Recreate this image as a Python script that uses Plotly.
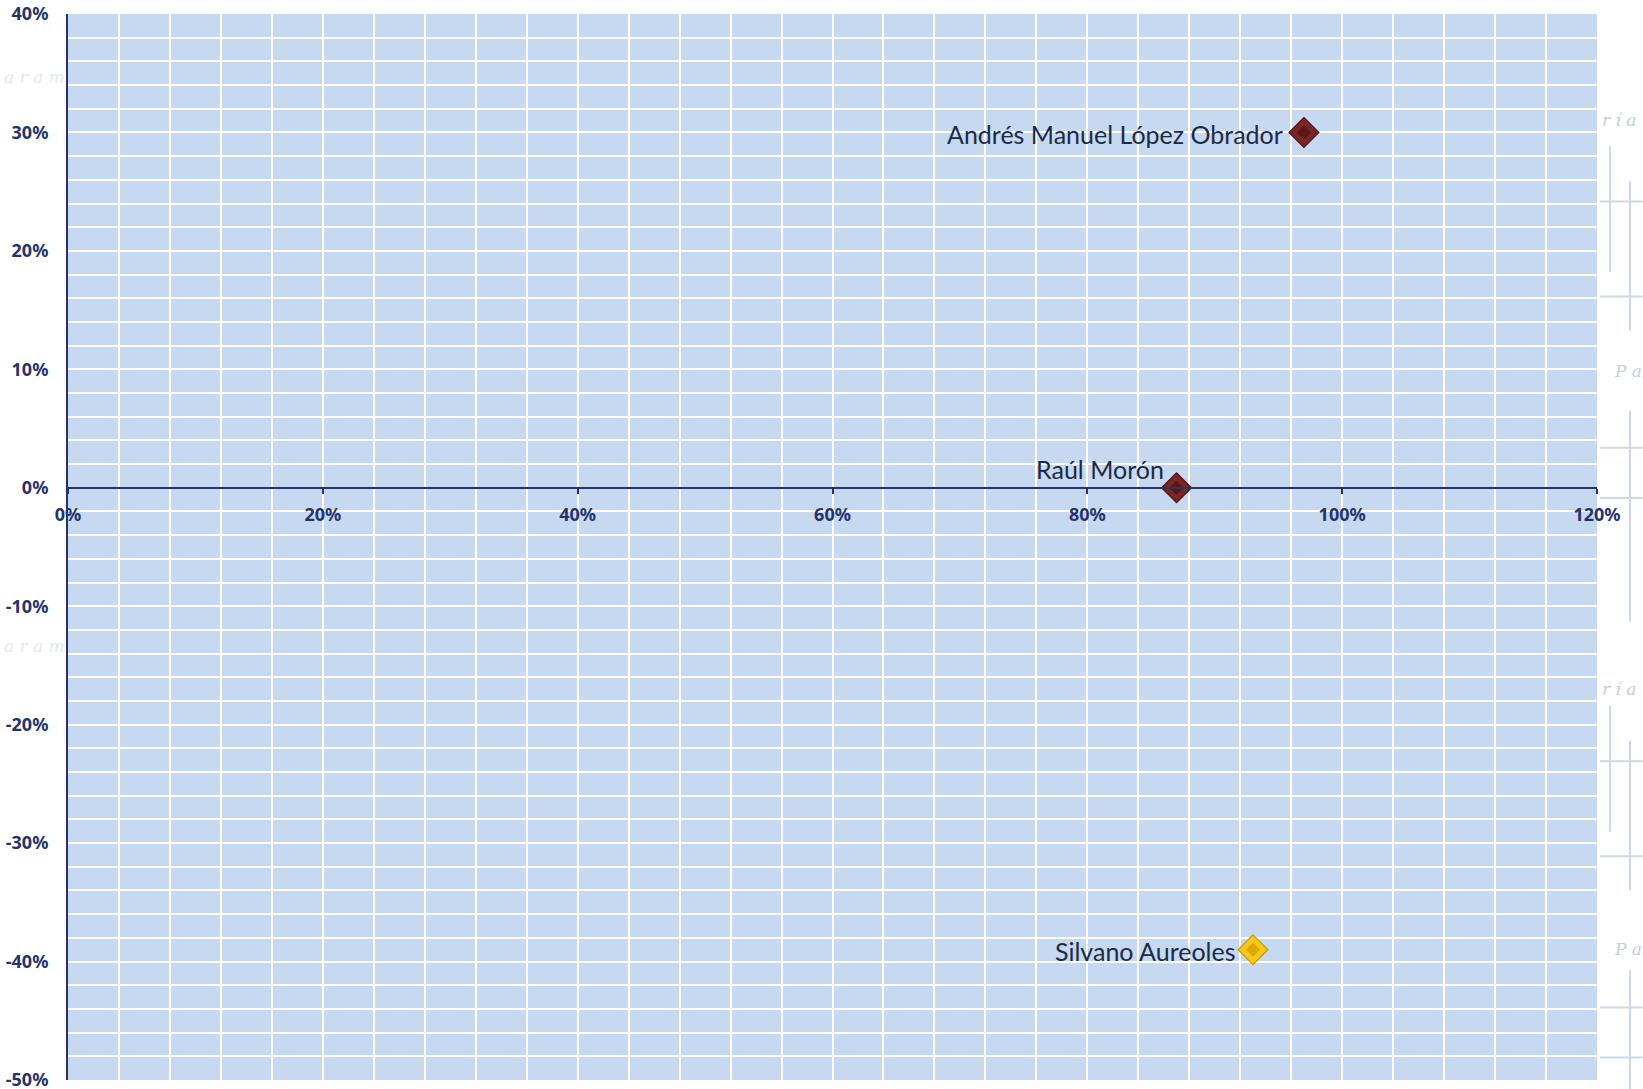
import plotly.graph_objects as go

# Candidates: x = first metric, y = second metric (as fractions)
candidatos = ["Andrés Manuel López Obrador", "Raúl Morón", "Silvano Aureoles"]
valor_x = [0.97, 0.87, 0.93]
valor_y = [0.30, 0.00, -0.39]
color_borde = ["#4a1212", "#4a1212", "#c99a00"]
color_relleno = ["#7a2626", "#7a2626", "#f7c81a"]
color_centro = ["#5c1717", "#5c1717", "#dcaa05"]

# axis ticks
x_ticks = [0.0, 0.2, 0.4, 0.6, 0.8, 1.0, 1.2]
x_tick_labels = ["0%", "20%", "40%", "60%", "80%", "100%", "120%"]
y_ticks = [-0.5, -0.4, -0.3, -0.2, -0.1, 0.0, 0.1, 0.2, 0.3, 0.4]
y_tick_labels = ["-50%", "-40%", "-30%", "-20%", "-10%", "0%", "10%", "20%", "30%", "40%"]

# label offsets (pixels) relative to each marker
label_dx = [-19, -11, -15]
label_dy = [-2, 19, -1]

navy = "#26336b"
fig = go.Figure()

# faint decorative backdrop in the page margins
deco_text = [
    (-0.043, 0.952, "a r a m", "left", "#e2eaee"),
    (-0.043, 0.407, "a r a m", "left", "#e2eaee"),
    (1.002, 0.912, "r í a", "left", "#c3cfe0"),
    (1.002, 0.367, "r í a", "left", "#c3cfe0"),
    (1.010, 0.665, "P a", "left", "#c3cfe0"),
    (1.010, 0.112, "P a", "left", "#c3cfe0"),
]
for xp, yp, t, anc, col in deco_text:
    fig.add_annotation(x=xp, y=yp, xref="paper", yref="paper", text="<i>" + t + "</i>",
                       showarrow=False, xanchor=anc,
                       font=dict(family="DejaVu Serif", size=17, color=col))

deco_col = "#cdd7e6"
for off in [0.0, -0.525]:
    for xp, y0, y1 in [(1.0085, 0.876, 0.758), (1.0216, 0.843, 0.703)]:
        fig.add_shape(type="line", xref="paper", yref="paper", x0=xp, x1=xp,
                      y0=y0 + off, y1=y1 + off, line=dict(color=deco_col, width=2))
    for yp in [0.824, 0.735]:
        fig.add_shape(type="line", xref="paper", yref="paper", x0=1.002, x1=1.03,
                      y0=yp + off, y1=yp + off, line=dict(color=deco_col, width=2))
    fig.add_shape(type="line", xref="paper", yref="paper", x0=1.0216, x1=1.0216,
                  y0=0.628 + off, y1=0.43 + off, line=dict(color=deco_col, width=2))
    for yp in [0.593, 0.546]:
        fig.add_shape(type="line", xref="paper", yref="paper", x0=1.002, x1=1.03,
                      y0=yp + off, y1=yp + off, line=dict(color=deco_col, width=2))

# markers with a bevelled look: outer diamond + inner diamond
fig.add_trace(go.Scatter(
    x=valor_x, y=valor_y, mode="markers",
    marker=dict(symbol="diamond", size=23, color=color_relleno,
                line=dict(color=color_borde, width=1.2)),
    hoverinfo="skip", showlegend=False, cliponaxis=False,
))
fig.add_trace(go.Scatter(
    x=valor_x, y=valor_y, mode="markers",
    marker=dict(symbol="diamond", size=11, color=color_centro,
                line=dict(width=0)),
    hoverinfo="skip", showlegend=False, cliponaxis=False,
))

# candidate names next to their markers
for nombre, xv, yv, dx, dy in zip(candidatos, valor_x, valor_y, label_dx, label_dy):
    fig.add_annotation(x=xv, y=yv, text=nombre, showarrow=False,
                       xanchor="right", yanchor="middle", xshift=dx, yshift=dy,
                       font=dict(family="Lato", size=25, color="#1c2a45"))

y_min, y_max = -0.5, 0.4
tick_font = dict(family="Noto Sans", size=18, color=navy, weight="bold")
fig.update_layout(
    width=1643, height=1089,
    margin=dict(l=68, r=46, t=14, b=9, autoexpand=False),
    paper_bgcolor="white",
    plot_bgcolor="#c6d9f1",
    xaxis=dict(
        range=[0, 1.2], tickmode="array", tickvals=x_ticks, ticktext=x_tick_labels,
        anchor="free", position=(0 - y_min) / (y_max - y_min),
        showline=True, linecolor=navy, linewidth=2,
        ticks="outside", ticklen=5, tickcolor=navy, tickwidth=2,
        ticklabelstandoff=6, ticklabeloverflow="allow",
        showgrid=True, gridcolor="white", gridwidth=2,
        minor=dict(tickmode="linear", tick0=0, dtick=0.04, showgrid=True,
                   gridcolor="white", gridwidth=2),
        zeroline=False, automargin=False,
        tickfont=tick_font,
    ),
    yaxis=dict(
        range=[y_min, y_max], tickmode="array", tickvals=y_ticks, ticktext=y_tick_labels,
        showline=True, linecolor=navy, linewidth=2,
        ticks="", ticklabelstandoff=14, ticklabeloverflow="allow",
        showgrid=True, gridcolor="white", gridwidth=2,
        minor=dict(tickmode="linear", tick0=0, dtick=0.02, showgrid=True,
                   gridcolor="white", gridwidth=2),
        zeroline=False, automargin=False,
        tickfont=tick_font,
    ),
)

fig.write_html("out.html")
